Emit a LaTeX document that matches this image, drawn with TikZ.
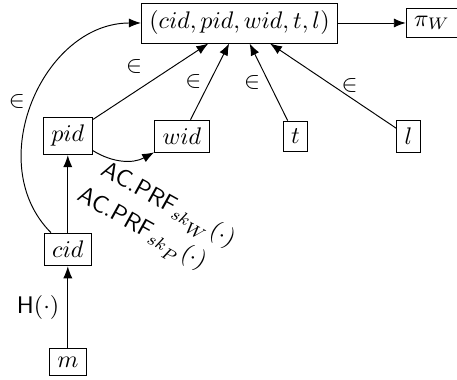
\documentclass[tikz,border=0pt]{standalone}
\usetikzlibrary{arrows.meta}
\begin{document}
\begin{tikzpicture}[x=0.41667pt, y=0.41667pt,
    box/.style={draw, inner sep=3.33pt},
    >={Latex[length=5pt,width=3.8pt]},
    prf/.style={rotate=-29, inner sep=0pt}]
\useasboundingbox (0,0) rectangle (457,-380);

% nodes
\node[box] (tup) at (239.5,-23)  {$(cid,pid,wid,t,l)$};
\node[box] (piw) at (432,-23)    {$\pi_W$};
\node[box] (pid) at (67.8,-136)  {$pid$};
\node[box] (wid) at (182,-136.5) {$wid$};
\node[box] (t)   at (295.5,-136.5) {$t$};
\node[box] (l)   at (408.5,-136.5) {$l$};
\node[box] (cid) at (67.8,-249.5) {$cid$};
\node[box] (m)   at (67.8,-362)  {$m$};

% connectors
\draw[->] (tup) -- (piw);
\draw[->] (pid) -- node[above left] {$\in$} (tup);
\draw[->] (wid) -- node[left] {$\in$} (tup);
\draw[->] (t)   -- node[left] {$\in$} (tup);
\draw[->] (l)   -- node[right] {$\in$} (tup);
\draw[->] (cid) to[out=135, in=180, looseness=1.1] node[left] {$\in$} (tup);
\draw[->] (cid) -- node[pos=0.5, shift={(73.2,-36.8)}, prf]
    {$\mathsf{AC.PRF}_{sk_{\scriptstyle P}}(\cdot)$} (pid);
\draw[->] (pid) to[bend right=30] node[pos=0.5, shift={(44,-46.5)}, prf]
    {$\mathsf{AC.PRF}_{sk_{\scriptstyle W}}(\cdot)$} (wid);
\draw[->] (m) -- node[left] {$\mathsf{H}(\cdot)$} (cid);
\end{tikzpicture}
\end{document}
